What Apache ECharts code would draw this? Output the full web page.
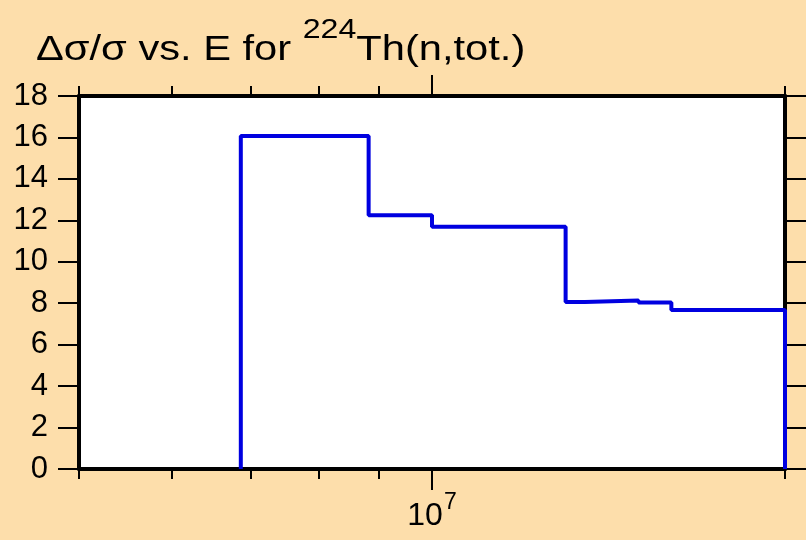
<!DOCTYPE html>
<html>
<head>
<meta charset="utf-8">
<title>dsig/sig vs E for 224Th(n,tot.)</title>
<script src="https://cdn.jsdelivr.net/npm/echarts@6/dist/echarts.min.js"></script>
<style>
  html, body { margin: 0; padding: 0; background: #FDDEAB; }
  #chart { width: 806px; height: 540px; }
</style>
</head>
<body>
<div id="chart"></div>
<script>
  // bin edges (eV) and relative uncertainty per bin
  var binEdges = [6.87e6, 8.83e6, 1.0e7, 1.3e7, 1.35e7, 1.5e7, 1.6e7, 2.0e7];
  var binValues = [16.07, 12.25, 11.69, 8.06, 8.13, 8.03, 7.67];

  var minorTicks = [5e6, 6e6, 7e6, 8e6, 9e6, 2e7];
  var majorTicks = [1e7];
  var yTicks = [0, 2, 4, 6, 8, 10, 12, 14, 16, 18];

  var FONT = 'Liberation Sans, Arial, sans-serif';

  // step curve: start from zero, one point per bin, close back to zero
  var stepData = [[binEdges[0], 0]];
  for (var i = 0; i < binValues.length; i++) {
    stepData.push([binEdges[i], binValues[i]]);
  }
  stepData.push([binEdges[binEdges.length - 1], binValues[binValues.length - 1]]);
  stepData.push([binEdges[binEdges.length - 1], 0]);

  function logAxis(pos, tickVals, tickLen, opts) {
    var ax = {
      type: 'log',
      logBase: 10,
      position: pos,
      min: 5e6,
      max: 2e7,
      axisLine: { show: false, onZero: false },
      axisTick: { show: true, customValues: tickVals, length: tickLen, lineStyle: { color: '#000', width: 2 } },
      axisLabel: { show: false },
      splitLine: { show: false }
    };
    return Object.assign(ax, opts || {});
  }

  var chart = echarts.init(document.getElementById('chart'));
  var option = {
    animation: false,
    backgroundColor: '#FDDEAB',
    textStyle: { fontFamily: FONT },
    graphic: [{
      type: 'text',
      x: 36,
      y: 68,
      scaleX: 1.19,
      style: {
        text: '{a|\u0394\u03c3/\u03c3 vs. E for }{s|224}{a|Th(n,tot.)}',
        fill: '#000',
        verticalAlign: 'bottom',
        rich: {
          a: { fontFamily: FONT, fontSize: 35, fill: '#000', verticalAlign: 'bottom' },
          s: { fontFamily: FONT, fontSize: 27, fill: '#000', verticalAlign: 'bottom', padding: [0, 0, 24, 0] }
        }
      }
    }],
    grid: {
      left: 79, right: 21, top: 96, bottom: 71,
      show: true, backgroundColor: '#fff', borderWidth: 0
    },
    xAxis: [
      logAxis('bottom', minorTicks, 10, {
        axisLine: { show: true, onZero: false, lineStyle: { color: '#000', width: 4 } },
        axisLabel: {
          show: true,
          customValues: majorTicks,
          margin: 22,
          formatter: function () { return '{b|10}{s|7}'; },
          rich: {
            b: { fontFamily: FONT, fontSize: 32, color: '#000', verticalAlign: 'bottom' },
            s: { fontFamily: FONT, fontSize: 23, color: '#000', verticalAlign: 'bottom', padding: [0, 0, 18, 1] }
          }
        }
      }),
      logAxis('bottom', majorTicks, 21),
      logAxis('top', minorTicks, 10, {
        axisLine: { show: true, onZero: false, lineStyle: { color: '#000', width: 4 } }
      }),
      logAxis('top', majorTicks, 21)
    ],
    yAxis: [
      {
        type: 'value',
        position: 'left',
        min: 0, max: 18, interval: 2,
        axisLine: { show: true, onZero: false, lineStyle: { color: '#000', width: 4 } },
        axisTick: { show: true, customValues: yTicks, length: 21, lineStyle: { color: '#000', width: 2 } },
        axisLabel: { show: true, margin: 31, fontFamily: FONT, fontSize: 31, color: '#000' },
        splitLine: { show: false }
      },
      {
        type: 'value',
        position: 'right',
        min: 0, max: 18, interval: 2,
        axisLine: { show: true, onZero: false, lineStyle: { color: '#000', width: 4 } },
        axisTick: { show: true, customValues: yTicks, length: 21, lineStyle: { color: '#000', width: 2 } },
        axisLabel: { show: false },
        splitLine: { show: false }
      }
    ],
    series: [{
      type: 'line',
      xAxisIndex: 0,
      yAxisIndex: 0,
      step: 'end',
      data: stepData,
      symbol: 'none',
      clip: false,
      z: 5,
      lineStyle: { color: '#0000E0', width: 4 }
    }]
  };
  chart.setOption(option);
</script>
</body>
</html>
